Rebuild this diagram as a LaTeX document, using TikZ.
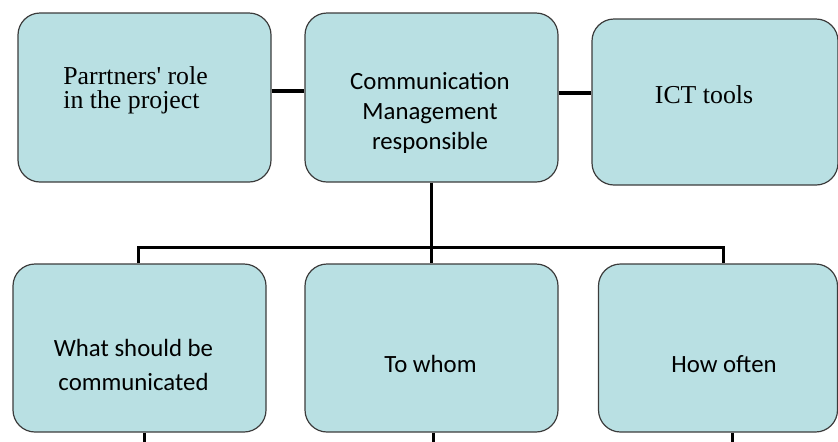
\documentclass[tikz,border=0pt]{standalone}
\usepackage{fontspec}
\setmainfont{Liberation Serif}
\newfontfamily\carlito{Carlito}
\usepackage{tikz}
\usetikzlibrary{positioning}
\definecolor{boxfill}{RGB}{185,224,227}
\definecolor{boxline}{RGB}{60,60,60}

\begin{document}
\begin{tikzpicture}[x=0.5pt,y=-0.5pt,on grid,
        box/.style={draw=boxline,fill=boxfill,line width=0.6pt,rounded corners=11pt,minimum width=126.5pt,minimum height=84.5pt},
        serif/.style={font=\fontsize{12.9}{12}\selectfont,align=left,inner sep=0pt},
        sans/.style={font=\carlito\fontsize{12.4}{15}\selectfont,align=center,inner sep=0pt},
        link/.style={line width=1.6pt}]
        \useasboundingbox (0,0) rectangle (838,441);

        \node[box]   (mgmt)     at (431.5,97.5)                 {};
        \node[box]   (partners) [left=143.5pt of mgmt]          {};
        \node[box, minimum width=123pt, minimum height=83pt]   (ict) [right=141.75pt of mgmt, yshift=-2.25pt] {};
        \node[box, minimum height=84pt]   (whom)  [below=125.25pt of mgmt]   {};
        \node[box, minimum height=84pt]   (what)  [left=146pt of whom]       {};
        \node[box, minimum width=119.5pt, minimum height=84pt]   (often) [right=143.25pt of whom] {};

        \node[serif, anchor=west] (partnerstxt) at ([xshift=-40.75pt,yshift=3.75pt]partners.center) {Parrtners\textquotesingle{} role\\in the project};
        \node[sans]  (mgmttxt)  at ([xshift=-0.75pt,yshift=-7.75pt]mgmt.center)  {Communication\\Management\\responsible};
        \node[serif] (icttxt)   at ([xshift=-5.5pt,yshift=3.5pt]ict.center)      {ICT tools};
        \node[sans, font=\carlito\fontsize{12.4}{17}\selectfont] (whattxt) at ([xshift=-3pt,yshift=-8.5pt]what.center) {What should be\\communicated};
        \node[sans]  (whomtxt)  at ([xshift=-0.5pt,yshift=-8pt]whom.center)      {To whom};
        \node[sans]  (oftentxt) at ([xshift=3pt,yshift=-8pt]often.center)        {How often};

        \draw[link] ([yshift=3.25pt]partners.east) -- ([yshift=3.25pt]partners.east -| mgmt.west);
        \draw[link] ([yshift=2.25pt]mgmt.east) -- ([yshift=2.25pt]mgmt.east -| ict.west);
        \draw[link] (mgmt.south) -- (whom.north);
        \draw[link] ([xshift=-0.5pt]what.north) -- ++(0,-16) -| ([xshift=2.75pt]often.north);
        \draw[link] ([xshift=2.5pt]what.south) -- ++(0,12);
        \draw[link] ([xshift=1pt]whom.south) -- ++(0,12);
        \draw[link] ([xshift=7.25pt]often.south) -- ++(0,12);
    \end{tikzpicture}
\end{document}
